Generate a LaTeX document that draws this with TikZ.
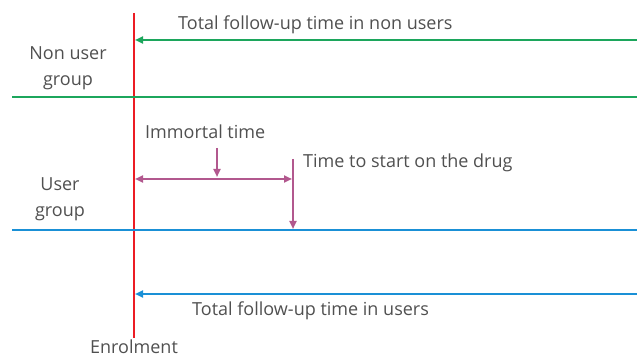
\documentclass[tikz,border=0pt]{standalone}
\usepackage{fontspec}
\setmainfont{Open Sans}
\usepackage{tikz}
\definecolor{nongreen}{RGB}{28,166,92}
\definecolor{userblue}{RGB}{26,144,214}
\definecolor{enrolred}{RGB}{236,28,36}
\definecolor{immauve}{RGB}{178,88,142}
\definecolor{textgray}{RGB}{80,80,80}
\usetikzlibrary{arrows.meta}

\begin{document}
\begin{tikzpicture}[x=1pt,y=-1pt,
    txt/.style={text=textgray,font=\fontsize{18}{26}\selectfont,inner sep=0pt,align=center},
    band/.style={line width=2pt},
    span/.style={line width=2pt,-{Triangle[length=8pt,width=7pt]}},
    twoway/.style={line width=2pt,{Triangle[length=8pt,width=7pt]}-{Triangle[length=8pt,width=7pt]}}
]
\useasboundingbox (0,0) rectangle (637,358);
\coordinate (enroltop) at (134,13);
\coordinate (enrolbot) at (134,338);
\draw[band,enrolred] (enroltop) -- (enrolbot);
\node[txt,anchor=base] (enrol) at (134,353) {Enrolment};

\coordinate (nonstart) at (637,40);
\coordinate (nonend) at (135,40);
\draw[span,nongreen] (nonstart) -- (nonend);
\node[txt,anchor=base west] (nonlabel) at (178,30) {Total follow-up time in non users};
\coordinate (greenleft) at (12,97);
\coordinate (greenright) at (637,97);
\draw[band,nongreen] (greenleft) -- (greenright);
\node[txt] (nongroup) at (68,68) {Non user\\group};

\coordinate (immleft) at (135,179);
\coordinate (immright) at (292,179);
\draw[twoway,immauve] (immleft) -- (immright);
\node[txt,anchor=base west] (immortal) at (145,139) {Immortal time};
\coordinate (immpoint) at (217,177);
\draw[span,immauve] (217,148) -- (immpoint);
\node[txt,anchor=base west] (startdrug) at (303,168) {Time to start on the drug};
\coordinate (drugtop) at (293,159);
\coordinate (drugbot) at (293,229);
\draw[span,immauve] (drugtop) -- (drugbot);
\node[txt] (usergroup) at (60,199) {User\\group};

\coordinate (blueleft) at (12,230);
\coordinate (blueright) at (637,230);
\draw[band,userblue] (blueleft) -- (blueright);
\coordinate (userstart) at (637,294);
\coordinate (userend) at (135,294);
\draw[span,userblue] (userstart) -- (userend);
\node[txt,anchor=base west] (userlabel) at (192,315) {Total follow-up time in users};
\end{tikzpicture}
\end{document}
